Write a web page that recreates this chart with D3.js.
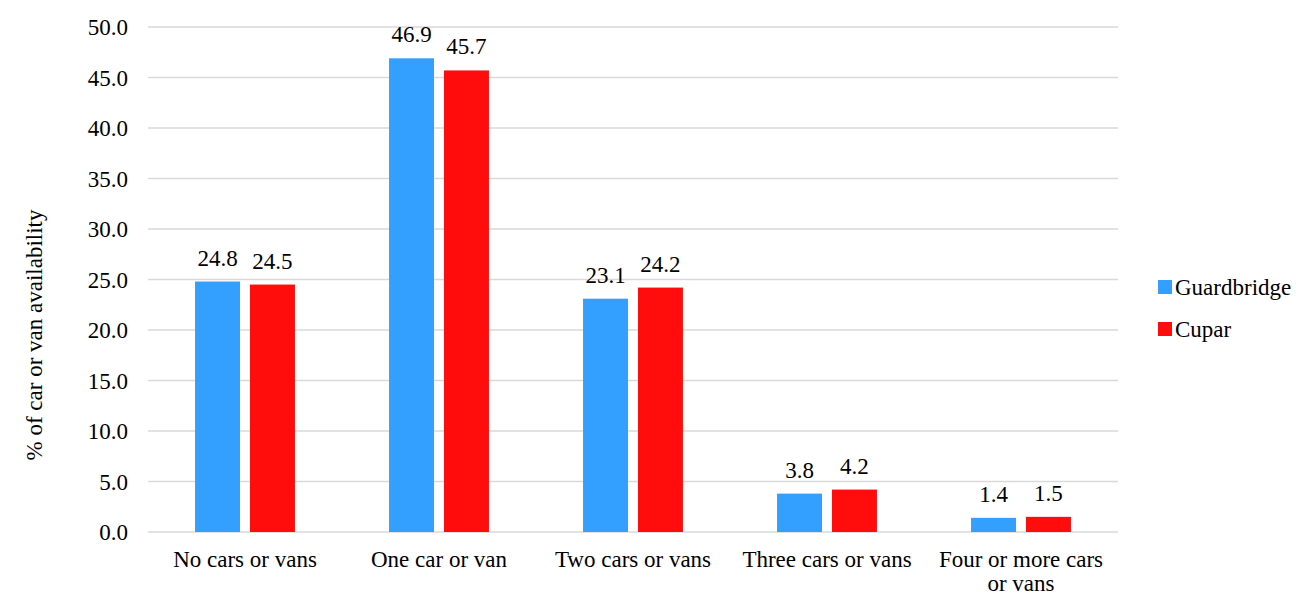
<!DOCTYPE html>
<html><head><meta charset="utf-8">
<script src="https://cdn.jsdelivr.net/npm/d3@7"></script>
</head><body style="margin:0;background:#fff">
<svg id="c" width="1300" height="595"></svg>
<script>
const categories = [["No cars or vans"],["One car or van"],["Two cars or vans"],["Three cars or vans"],["Four or more cars","or vans"]];
const seriesNames = ["Guardbridge","Cupar"];
const guardbridge = [24.8, 46.9, 23.1, 3.8, 1.4];
const cupar = [24.5, 45.7, 24.2, 4.2, 1.5];
const yTicks = [0,5,10,15,20,25,30,35,40,45,50];
const colors = ["#339ffe","#ff0d0d"];

(function(){
const FONT = "Liberation Serif";
const svg = d3.select("#c");
const mLeft = 148, mRight = 1118, mTop = 27, mBottom = 532;
const x = d3.scaleBand().domain(d3.range(categories.length)).range([mLeft,mRight]).paddingInner(0.485).paddingOuter(0.2425);
const xs = d3.scaleBand().domain([0,1]).range([0,x.bandwidth()]).paddingInner(0.182);
const y = d3.scaleLinear().domain([0,50]).range([mBottom,mTop]);
const fs = 23;

svg.append("g").selectAll("line").data(yTicks).join("line")
  .attr("x1",mLeft).attr("x2",mRight).attr("y1",d=>y(d)).attr("y2",d=>y(d))
  .attr("stroke","#d9d9d9").attr("stroke-width",1.5);

const yAxis = d3.axisLeft(y).tickValues(yTicks).tickFormat(d3.format(".1f")).tickSize(0).tickPadding(0);
const ya = svg.append("g").attr("transform",`translate(128,0)`).call(yAxis);
ya.select(".domain").remove();
ya.selectAll("text").attr("fill","#000").attr("dy","0.34em").attr("font-family",FONT).attr("font-size",fs);

const data = [guardbridge, cupar];
data.forEach((vals,si)=>{
  const g = svg.append("g");
  g.selectAll("rect").data(vals).join("rect")
    .attr("x",(d,i)=>x(i)+xs(si)).attr("width",xs.bandwidth())
    .attr("y",d=>y(d)).attr("height",d=>mBottom-y(d))
    .attr("fill",colors[si]);
  g.selectAll("text").data(vals).join("text")
    .attr("x",(d,i)=>x(i)+xs(si)+xs.bandwidth()/2).attr("y",d=>y(d)-16)
    .attr("text-anchor","middle").attr("font-family",FONT).attr("font-size",fs).text(d=>d.toFixed(1));
});

const xa = svg.append("g");
categories.forEach((lines,i)=>{
  const cx = x(i)+x.bandwidth()/2;
  const t = xa.append("text").attr("x",cx).attr("y",567).attr("text-anchor","middle").attr("font-family",FONT).attr("font-size",fs);
  lines.forEach((l,j)=>t.append("tspan").attr("x",cx).attr("dy",j===0?0:24).text(l));
});

svg.append("text").attr("transform","translate(42,335) rotate(-90)").attr("text-anchor","middle").attr("font-family",FONT).attr("font-size",fs).text("% of car or van availability");

seriesNames.forEach((n,i)=>{
  const ly = 280 + i*42;
  svg.append("rect").attr("x",1158).attr("y",ly).attr("width",14).attr("height",14).attr("fill",colors[i]);
  svg.append("text").attr("x",1175).attr("y",ly+15).attr("font-family",FONT).attr("font-size",fs).text(n);
});
})();
</script>
</body></html>
